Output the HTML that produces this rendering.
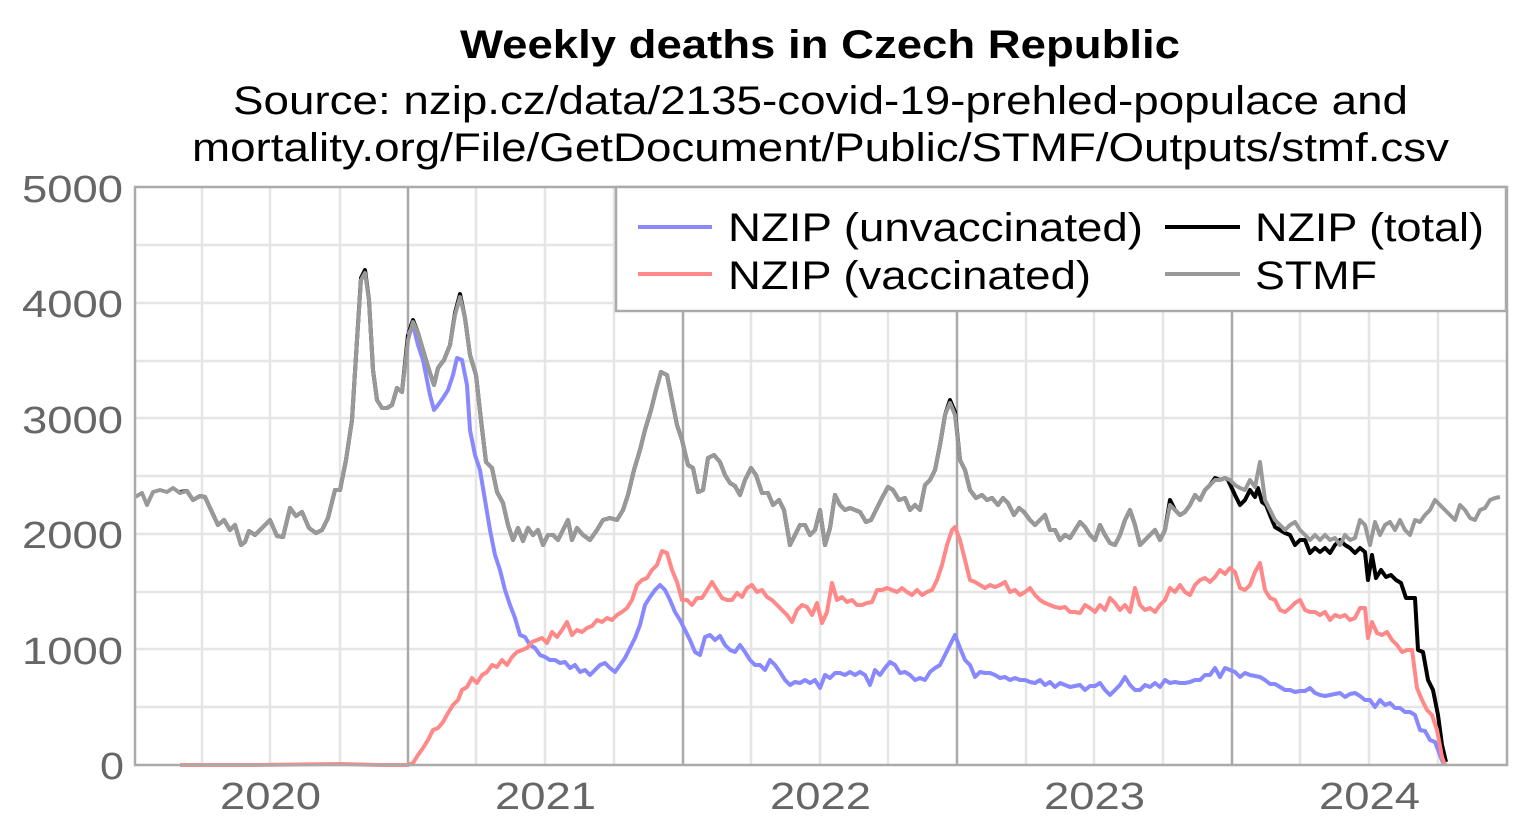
<!DOCTYPE html>
<html><head><meta charset="utf-8"><style>
html,body{margin:0;padding:0;background:#fff;}
svg{display:block;font-family:"Liberation Sans",Arial,sans-serif;}
</style></head><body>
<svg width="1530" height="840" viewBox="0 0 1530 840" xmlns="http://www.w3.org/2000/svg">
<rect width="1530" height="840" fill="#fff"/>
<text x="460" y="58" font-size="40" font-weight="bold" fill="#000" textLength="720" lengthAdjust="spacingAndGlyphs">Weekly deaths in Czech Republic</text>
<text x="233" y="114" font-size="40" fill="#000" textLength="1175" lengthAdjust="spacingAndGlyphs">Source: nzip.cz/data/2135-covid-19-prehled-populace and</text>
<text x="192" y="161" font-size="40" fill="#000" textLength="1257" lengthAdjust="spacingAndGlyphs">mortality.org/File/GetDocument/Public/STMF/Outputs/stmf.csv</text>
<g stroke="#e5e5e5" stroke-width="2.5">
<line x1="135" x2="1507" y1="707" y2="707"/><line x1="135" x2="1507" y1="592" y2="592"/><line x1="135" x2="1507" y1="476" y2="476"/><line x1="135" x2="1507" y1="361" y2="361"/><line x1="135" x2="1507" y1="245" y2="245"/>
<line x1="135" x2="1507" y1="649" y2="649"/><line x1="135" x2="1507" y1="534" y2="534"/><line x1="135" x2="1507" y1="418" y2="418"/><line x1="135" x2="1507" y1="303" y2="303"/>
<line y1="187" y2="765" x1="202" x2="202"/><line y1="187" y2="765" x1="270" x2="270"/><line y1="187" y2="765" x1="340" x2="340"/><line y1="187" y2="765" x1="476" x2="476"/><line y1="187" y2="765" x1="545" x2="545"/><line y1="187" y2="765" x1="614" x2="614"/><line y1="187" y2="765" x1="751" x2="751"/><line y1="187" y2="765" x1="820" x2="820"/><line y1="187" y2="765" x1="888" x2="888"/><line y1="187" y2="765" x1="1026" x2="1026"/><line y1="187" y2="765" x1="1094" x2="1094"/><line y1="187" y2="765" x1="1163" x2="1163"/><line y1="187" y2="765" x1="1300" x2="1300"/><line y1="187" y2="765" x1="1369" x2="1369"/><line y1="187" y2="765" x1="1438" x2="1438"/>
</g>
<g stroke="#aaa" stroke-width="2.5">
<line y1="187" y2="765" x1="408" x2="408"/><line y1="187" y2="765" x1="683" x2="683"/><line y1="187" y2="765" x1="957" x2="957"/><line y1="187" y2="765" x1="1232" x2="1232"/>
</g>
<g fill="none" stroke-width="4" stroke-linejoin="round">
<polyline stroke="#000" points="180,492 187,491 193,500 200,496 205,497 211,510 218,525 224,520 230,530 235,525 241,545 245,542 249,531 255,535 262,528 270,520 277,536 283,537 290,508 296,516 302,512 309,528 316,533 322,530 328,518 335,490 340,490 346,460 352,420 357,340 361,278 365,270 369,300 373,370 377,400 382,408 387,408 392,405 397,388 402,392 408,335 413,320 418,333 423,350 429,370 434,385 438,368 444,360 450,345 455,313 460,294 465,318 470,355 476,375 481,420 486,462 492,468 497,492 503,503 508,525 513,540 518,528 523,541 528,528 533,535 538,530 543,545 548,535 553,535 558,540 563,530 568,520 572,540 577,528 583,535 590,540 597,530 603,520 610,518 617,520 623,510 628,495 634,470 640,450 645,430 651,410 656,390 661,372 667,375 672,400 677,425 682,440 688,465 693,468 698,492 703,490 708,458 714,455 720,462 725,475 730,483 735,486 740,495 745,480 751,468 756,475 762,493 768,493 773,505 779,500 784,510 790,545 795,535 800,525 805,525 810,535 815,530 820,510 825,545 830,528 835,495 840,505 845,510 850,508 855,510 860,512 866,522 871,520 876,510 882,498 888,487 893,490 899,500 905,498 910,510 915,505 920,510 925,485 930,480 935,470 940,445 945,415 950,400 955,412 960,460 965,470 970,490 976,498 982,495 987,500 992,498 998,505 1003,498 1008,503 1014,515 1019,508 1024,512 1030,520 1035,525 1040,520 1045,515 1050,530 1055,530 1060,540 1065,535 1070,538 1075,530 1080,522 1085,527 1090,535 1095,540 1100,525 1105,535 1110,543 1115,545 1120,535 1125,520 1130,510 1135,525 1140,545 1145,540 1150,535 1155,530 1160,540 1165,530 1170,500 1175,510 1180,515 1185,512 1190,505 1195,495 1200,500 1205,490 1210,485 1215,478 1220,480 1225,478 1228,480 1235,495 1240,505 1245,500 1250,490 1255,497 1258,488 1262,502 1266,505 1270,515 1275,527 1280,530 1285,533 1290,535 1295,545 1300,540 1305,540 1310,553 1315,548 1320,552 1325,548 1330,553 1335,545 1340,540 1345,545 1350,548 1355,553 1360,548 1365,552 1368,580 1372,555 1376,578 1381,570 1386,577 1391,575 1396,580 1401,583 1406,598 1410,598 1415,598 1418,650 1423,652 1428,680 1433,690 1438,715 1442,745 1446,762"/>
<polyline stroke="#8888ff" points="408,335 413,325 418,345 423,360 427,380 430,395 434,410 438,405 443,398 448,390 453,375 457,358 462,360 467,385 470,430 475,455 480,470 485,500 490,530 495,555 500,570 505,590 510,605 515,618 520,635 525,637 530,645 535,648 540,655 545,657 550,660 555,660 560,663 565,662 570,668 575,665 580,672 585,670 590,675 595,670 600,665 605,663 610,668 615,672 620,665 625,658 630,648 635,638 640,625 645,605 650,597 655,590 660,585 665,590 670,600 675,612 680,620 685,630 690,640 695,652 700,655 705,637 710,635 715,640 720,636 725,645 730,650 735,652 740,645 745,652 750,660 755,665 760,665 765,670 770,660 775,665 780,672 785,680 790,685 795,682 800,683 805,680 810,683 815,680 820,688 825,675 830,678 835,673 840,673 845,675 850,672 855,675 860,672 865,675 870,685 875,670 880,675 885,668 890,662 895,665 900,673 905,672 910,675 915,680 920,678 925,680 930,672 935,668 940,665 945,655 950,645 955,635 960,648 965,660 970,665 975,677 980,672 985,673 990,673 995,675 1000,678 1005,677 1010,680 1015,678 1020,680 1025,680 1030,682 1035,683 1040,680 1045,685 1050,682 1055,687 1060,683 1065,685 1070,687 1075,686 1080,685 1085,690 1090,686 1095,686 1100,683 1105,690 1110,695 1115,690 1120,685 1125,677 1130,685 1135,690 1140,690 1145,685 1150,687 1155,683 1160,687 1165,680 1170,683 1175,682 1180,683 1185,683 1190,682 1195,680 1200,680 1205,675 1210,675 1215,668 1220,677 1225,668 1230,670 1235,672 1240,677 1245,673 1250,675 1255,676 1260,677 1265,680 1270,684 1275,684 1280,687 1285,690 1290,690 1295,692 1300,691 1305,691 1310,688 1315,693 1320,695 1325,696 1330,695 1335,694 1340,693 1345,697 1350,694 1355,693 1360,696 1365,700 1370,700 1375,707 1380,700 1385,705 1390,703 1395,708 1400,708 1405,712 1410,712 1415,715 1420,730 1425,731 1430,740 1435,742 1440,755 1444,765"/>
<polyline stroke="#ff8888" points="180,765 250,765 340,764 380,765 408,765 413,763 418,755 423,748 428,740 433,730 438,728 443,722 448,713 453,705 458,700 462,690 467,687 472,678 477,683 482,675 487,672 492,665 497,667 502,660 507,665 512,657 517,652 522,650 527,648 532,642 537,640 542,638 547,643 552,632 557,637 562,630 567,622 572,635 577,630 582,632 587,628 592,626 597,620 602,622 607,618 612,620 617,615 622,612 627,608 632,600 637,585 642,580 647,578 652,570 657,565 662,551 667,553 672,570 677,582 682,600 687,600 692,605 697,598 702,598 707,590 712,582 717,590 722,598 727,600 732,600 737,593 742,597 747,588 752,585 757,592 762,590 767,597 772,600 777,605 782,610 787,615 792,622 797,610 802,605 807,607 812,615 817,603 822,623 827,612 832,583 837,600 842,597 847,602 852,600 857,605 862,605 867,603 872,602 877,590 882,590 887,588 892,590 897,592 902,588 907,592 912,595 917,590 922,595 927,592 932,590 937,580 942,565 947,545 952,530 955,527 960,540 965,560 970,580 975,582 980,585 985,588 990,585 995,587 1000,585 1005,582 1010,592 1015,590 1020,595 1025,592 1030,588 1035,595 1040,600 1045,603 1050,605 1055,607 1060,608 1065,607 1070,612 1075,612 1080,613 1085,605 1090,608 1095,612 1100,605 1105,610 1110,598 1115,603 1120,610 1125,605 1130,612 1135,588 1140,605 1145,610 1150,608 1155,612 1160,605 1165,600 1170,588 1175,592 1180,585 1185,592 1190,595 1195,585 1200,580 1205,578 1210,582 1215,577 1220,570 1225,574 1230,568 1235,572 1240,588 1245,590 1250,585 1255,572 1260,563 1265,590 1270,598 1275,600 1280,610 1285,612 1290,608 1295,603 1300,600 1305,610 1310,612 1315,612 1320,615 1325,612 1330,620 1335,615 1340,617 1345,615 1350,620 1355,618 1360,608 1365,608 1368,638 1372,622 1377,633 1382,635 1387,632 1392,640 1397,645 1402,652 1407,650 1412,650 1417,688 1422,700 1427,710 1432,715 1437,730 1442,757 1445,765"/>
<polyline stroke="#999" points="135,497 142,493 147,505 153,492 160,490 167,492 173,488 180,493 187,491 193,500 200,496 205,497 211,510 218,525 224,520 230,530 235,525 241,545 245,542 249,531 255,535 262,528 270,520 277,536 283,537 290,508 296,516 302,512 309,528 316,533 322,530 328,518 335,490 340,490 346,460 352,420 357,340 361,280 365,273 369,300 373,370 377,400 382,408 387,408 392,405 397,388 402,392 408,340 413,322 418,333 423,350 429,370 434,385 438,368 444,360 450,345 455,315 460,297 465,318 470,355 476,375 481,420 486,462 492,468 497,492 503,503 508,525 513,540 518,528 523,541 528,528 533,535 538,530 543,545 548,535 553,535 558,540 563,530 568,520 572,540 577,528 583,535 590,540 597,530 603,520 610,518 617,520 623,510 628,495 634,470 640,450 645,430 651,410 656,390 661,372 667,375 672,400 677,425 682,440 688,465 693,468 698,492 703,490 708,458 714,455 720,462 725,475 730,483 735,486 740,495 745,480 751,468 756,475 762,493 768,493 773,505 779,500 784,510 790,545 795,535 800,525 805,525 810,535 815,530 820,510 825,545 830,528 835,495 840,505 845,510 850,508 855,510 860,512 866,522 871,520 876,510 882,498 888,487 893,490 899,500 905,498 910,510 915,505 920,510 925,485 930,480 935,470 940,445 945,415 950,403 955,415 960,460 965,470 970,490 976,498 982,495 987,500 992,498 998,505 1003,498 1008,503 1014,515 1019,508 1024,512 1030,520 1035,525 1040,520 1045,515 1050,530 1055,530 1060,540 1065,535 1070,538 1075,530 1080,522 1085,527 1090,535 1095,540 1100,525 1105,535 1110,543 1115,545 1120,535 1125,520 1130,510 1135,525 1140,545 1145,540 1150,535 1155,530 1160,540 1165,530 1170,505 1175,510 1180,515 1185,512 1190,505 1195,495 1200,500 1205,490 1210,485 1215,480 1220,480 1225,478 1230,480 1235,485 1240,488 1245,490 1250,480 1255,487 1260,462 1265,500 1270,510 1275,520 1280,525 1285,530 1290,525 1295,522 1300,530 1305,535 1310,540 1315,535 1320,540 1325,535 1330,540 1335,538 1340,545 1345,535 1350,540 1355,538 1360,520 1365,525 1370,545 1375,522 1380,535 1385,525 1390,522 1395,530 1400,520 1405,530 1410,535 1415,520 1420,522 1425,515 1430,510 1435,500 1440,505 1445,510 1450,515 1455,520 1460,505 1465,510 1470,518 1475,520 1480,510 1485,508 1490,500 1495,498 1500,497"/>
</g>
<rect x="135" y="187" width="1372" height="578" fill="none" stroke="#aaa" stroke-width="2.5"/>
<rect x="616" y="187" width="890" height="124" fill="#fff" stroke="#aaa" stroke-width="2.5"/>
<g stroke-width="4">
<line x1="638" x2="712" y1="227" y2="227" stroke="#8888ff"/>
<line x1="638" x2="712" y1="274" y2="274" stroke="#ff8888"/>
<line x1="1165" x2="1240" y1="227" y2="227" stroke="#000"/>
<line x1="1165" x2="1240" y1="274" y2="274" stroke="#999"/>
</g>
<g font-size="40" fill="#000" lengthAdjust="spacingAndGlyphs">
<text x="728" y="241" textLength="415" lengthAdjust="spacingAndGlyphs">NZIP (unvaccinated)</text>
<text x="728" y="289" textLength="363" lengthAdjust="spacingAndGlyphs">NZIP (vaccinated)</text>
<text x="1255" y="241" textLength="229" lengthAdjust="spacingAndGlyphs">NZIP (total)</text>
<text x="1255" y="289" textLength="122" lengthAdjust="spacingAndGlyphs">STMF</text>
</g>
<g font-size="38" fill="#666">
<text x="100" y="779" textLength="24" lengthAdjust="spacingAndGlyphs">0</text>
<text x="22" y="664" textLength="101" lengthAdjust="spacingAndGlyphs">1000</text>
<text x="22" y="548" textLength="101" lengthAdjust="spacingAndGlyphs">2000</text>
<text x="22" y="433" textLength="101" lengthAdjust="spacingAndGlyphs">3000</text>
<text x="22" y="317" textLength="101" lengthAdjust="spacingAndGlyphs">4000</text>
<text x="22" y="202" textLength="101" lengthAdjust="spacingAndGlyphs">5000</text>
</g>
<g font-size="38" fill="#666">
<text x="220" y="809" textLength="101" lengthAdjust="spacingAndGlyphs">2020</text>
<text x="495" y="809" textLength="101" lengthAdjust="spacingAndGlyphs">2021</text>
<text x="770" y="809" textLength="101" lengthAdjust="spacingAndGlyphs">2022</text>
<text x="1044" y="809" textLength="101" lengthAdjust="spacingAndGlyphs">2023</text>
<text x="1319" y="809" textLength="101" lengthAdjust="spacingAndGlyphs">2024</text>
</g>
</svg>
</body></html>
